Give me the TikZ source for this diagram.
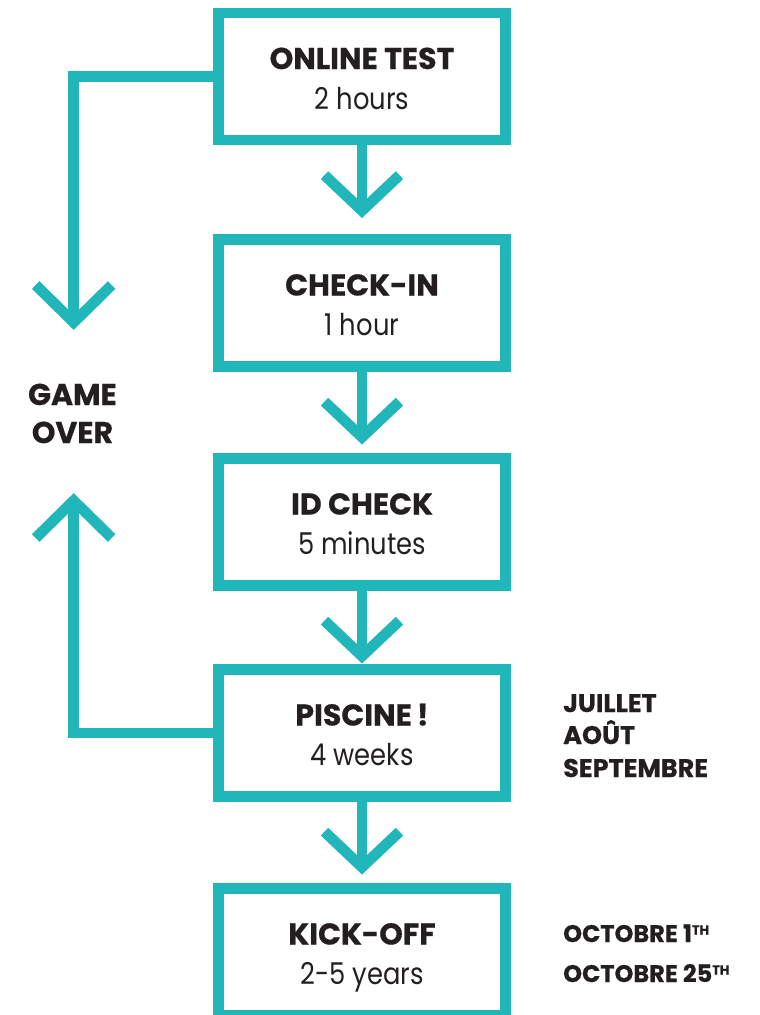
\documentclass[tikz,border=0pt]{standalone}
\usepackage{fontspec}
\setmainfont{Poppins}[BoldFeatures={FakeBold=0.6}]
\newfontfamily\subfont[FakeStretch=0.86]{Poppins}
\usetikzlibrary{calc}
\definecolor{tealline}{RGB}{33,182,185}
\definecolor{ink}{RGB}{35,31,32}
\begin{document}
\begin{tikzpicture}[x=1pt,y=-1pt,
  box/.style={draw=tealline, line width=10.7pt, minimum width=287.4pt, minimum height=126.8pt, inner sep=0pt},
  conn/.style={draw=tealline, line width=10.7pt, line join=miter, line cap=butt},
  title/.style={anchor=base, text=ink, font=\bfseries\fontsize{30}{30}\selectfont, inner sep=0pt},
  sub/.style={anchor=base, text=ink, font=\subfont\fontsize{30}{30}\selectfont, inner sep=0pt},
  side/.style={anchor=base west, text=ink, font=\bfseries\fontsize{25.5}{25.5}\selectfont, inner sep=0pt},
  sidesmall/.style={anchor=base west, text=ink, font=\bfseries\fontsize{24}{24}\selectfont, inner sep=0pt},
  gameover/.style={anchor=base, text=ink, font=\bfseries\fontsize{30}{30}\selectfont, inner sep=0pt},
]
\useasboundingbox (0,0) rectangle (760,1015);
\clip (0,0) rectangle (760,1015);

% boxes
\node[box] (b1) at (362,76.5) {};
\node[box] (b2) at (362,303) {};
\node[box] (b3) at (362,522) {};
\node[box] (b4) at (362,733) {};
\node[box] (b5) at (362,952) {};

% box texts
\node[title] (t1) at ($(b1.center)+(0,-7.5)$) {ONLINE TEST};
\node[sub]   (s1) at ($(b1.center)+(0,32.5)$) {2 hours};
\node[title] (t2) at ($(b2.center)+(0,-7.5)$) {CHECK-IN};
\node[sub]   (s2) at ($(b2.center)+(0,32.5)$) {1 hour};
\node[title] (t3) at ($(b3.center)+(0,-7.5)$) {ID CHECK};
\node[sub]   (s3) at ($(b3.center)+(0,32.5)$) {5 minutes};
\node[title] (t4) at ($(b4.center)+(0,-7.5)$) {PISCINE\,!};
\node[sub]   (s4) at ($(b4.center)+(0,32.5)$) {4 weeks};
\node[title] (t5) at ($(b5.center)+(0,-7.5)$) {KICK-OFF};
\node[sub]   (s5) at ($(b5.center)+(0,32.5)$) {2-5 years};

% down arrows between boxes
\foreach \s/\n in {b1/a1,b2/a2,b3/a3,b4/a4}{
  \coordinate (\n) at ($(\s.south)+(0,65.4)$);
  \draw[conn] (\s.south) -- (\n);
  \draw[conn] ($(\n)+(-37.5,-35.5)$) -- (\n) -- ($(\n)+(37.5,-35.5)$);
}

% game over
\node[gameover] (go1) at (72.5,405) {GAME};
\node[gameover] (go2) at (72.5,443) {OVER};

% left path from online test down to game over
\coordinate (l1) at (73.7,76.5);
\coordinate (la) at (73.7,322.4);
\draw[conn] (b1.west) -- (l1) -- (la);
\draw[conn] ($(la)+(-38,-37.4)$) -- (la) -- ($(la)+(38,-37.4)$);

% left path from piscine up to game over
\coordinate (l2) at (73.7,733);
\coordinate (ua) at (73.7,500.6);
\draw[conn] (b4.west) -- (l2) -- (ua);
\draw[conn] ($(ua)+(-38,37.4)$) -- (ua) -- ($(ua)+(38,37.4)$);

% side texts
\node[side] (m1) at (563,712) {JUILLET};
\node[side] (m2) at (563,744) {AOÛT};
\node[side] (m3) at (563,777) {SEPTEMBRE};
\node[sidesmall] (d1) at (563,942) {OCTOBRE 1{\fontsize{13}{13}\selectfont\raisebox{7.5pt}{TH}}};
\node[sidesmall] (d2) at (563,982) {OCTOBRE 25{\fontsize{13}{13}\selectfont\raisebox{7.5pt}{TH}}};
\end{tikzpicture}
\end{document}
